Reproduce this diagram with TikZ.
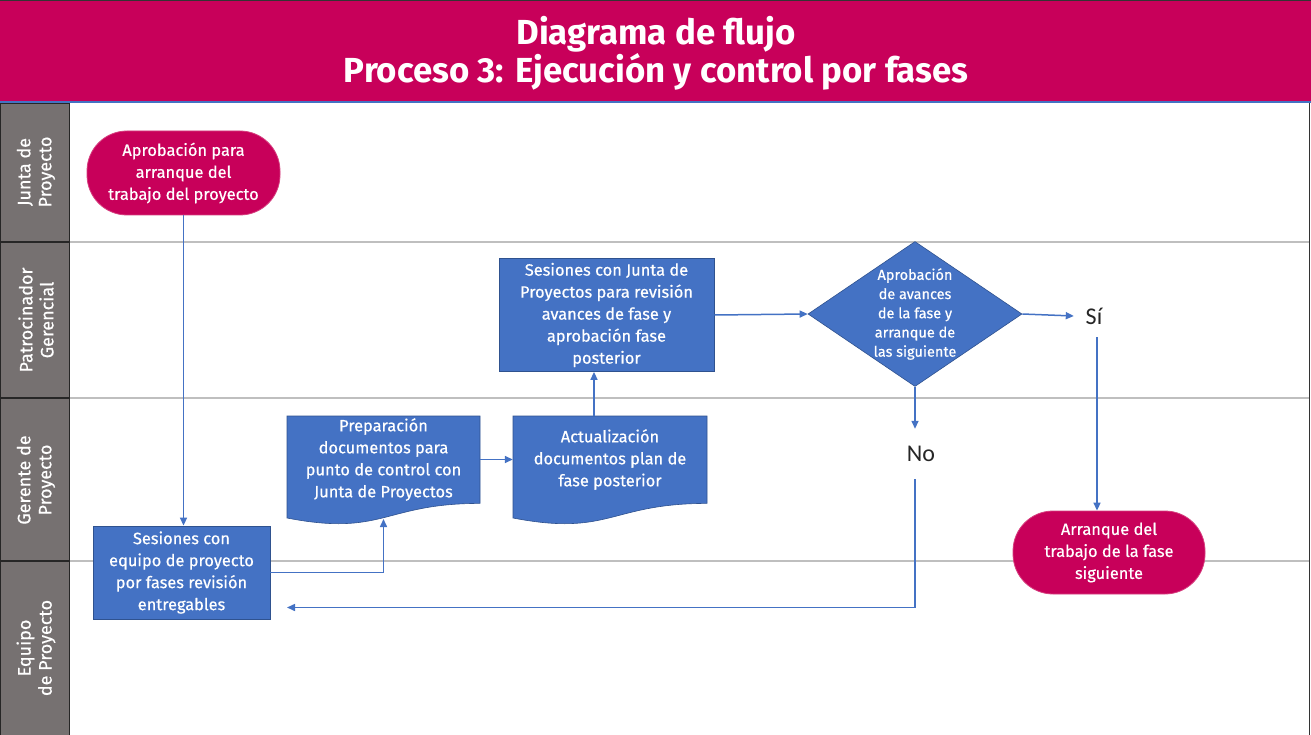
\documentclass[tikz,border=0pt]{standalone}
\usepackage{fontspec}
\setmainfont{Fira Sans}
\newfontfamily\bodyf[FakeBold=0.5]{Fira Sans}
\newfontfamily\calib{Carlito}
\usetikzlibrary{arrows.meta,shapes.geometric,calc}
\definecolor{mag}{HTML}{C8005A}
\definecolor{magb}{HTML}{D6407F}
\definecolor{lanegray}{HTML}{767171}
\definecolor{boxblue}{HTML}{4472C4}
\definecolor{boxedge}{HTML}{2F528F}
\definecolor{conn}{HTML}{4472C4}
\definecolor{sep}{HTML}{BFBFBF}
\tikzset{
  base/.style={font=\bodyf\fontsize{16.4}{22}\selectfont, text=white, align=center, inner sep=0pt},
  term/.style={base, fill=mag, draw=magb, line width=0.8pt, rounded corners=40pt},
  procbox/.style={base, fill=boxblue, draw=boxedge, line width=0.8pt},
  docarea/.style={base},
  decis/.style={diamond, fill=boxblue, draw=boxedge, line width=0.6pt, inner sep=0pt},
  lbl/.style={font=\calib\fontsize{24}{26}\selectfont, text=black!85, inner sep=0pt},
  flow/.style={draw=conn, line width=1.5pt, -{Triangle[length=8pt,width=7pt]}},
  lanehead/.style={fill=lanegray, draw=black!85, line width=1.2pt},
  lanetxt/.style={font=\bodyf\fontsize{18}{21}\selectfont, text=white, align=center, rotate=90, inner sep=0pt},
}
\begin{document}
\begin{tikzpicture}[x=1pt,y=-1pt]
\useasboundingbox (0,0) rectangle (1311,735);
\fill[white] (0,0) rectangle (1311,735);
% header
\fill[mag] (0,0) rectangle (1311,101);
\draw[black!80, line width=1.5pt] (0,0.75) -- (1311,0.75);
\fill[boxblue] (0,101) rectangle (1311,103.5);
\node[font=\bfseries\fontsize{34.8}{38}\selectfont, text=white, align=center, inner sep=0pt] (title) at (656,53) {Diagrama de flujo\\Proceso 3: Ejecución y control por fases};
% lane separators
\draw[sep, line width=1.2pt] (70,242) -- (1309,242);
\draw[sep, line width=1.2pt] (70,398) -- (1309,398);
\draw[sep, line width=1.2pt] (70,561) -- (1309,561);
\draw[black!80, line width=1.5pt] (1309.5,103.5) -- (1309.5,735);
% lane headers
\draw[lanehead] (0.6,103.5) rectangle (69.5,242);
\draw[lanehead] (0.6,242) rectangle (69.5,398);
\draw[lanehead] (0.6,398) rectangle (69.5,561);
\draw[lanehead] (0.6,561) rectangle (69.5,736);
\node[lanetxt] (l1) at (36,172) {Junta de\\Proyecto};
\node[lanetxt] (l2) at (36,320) {Patrocinador\\Gerencial};
\node[lanetxt] (l3) at (36,480) {Gerente de\\Proyecto};
\node[lanetxt] (l4) at (36,648) {Equipo\\de Proyecto};
% nodes
\node[term, minimum width=193pt, minimum height=84pt] (start) at (183.5,173) {Aprobación para\\arranque del\\trabajo del proyecto};
\node[procbox, minimum width=177pt, minimum height=93pt] (ses) at (181.5,572.5) {Sesiones con\\equipo de proyecto\\por fases revisión\\entregables};
% document shapes
\fill[boxblue] (287,416) -- (480,416) -- (480,503.4) .. controls (383.5,503.4) and (383.5,536.7) .. (287,518) -- cycle;
\draw[boxedge, line width=0.6pt] (287,416) -- (480,416) -- (480,503.4) .. controls (383.5,503.4) and (383.5,536.7) .. (287,518) -- cycle;
\node[docarea, minimum width=193pt, minimum height=87pt] (prep) at (383.5,459.5) {Preparación\\documentos para\\punto de control con\\Junta de Proyectos};
\coordinate (prepb) at (383.5,519);
\fill[boxblue] (513,416) -- (707,416) -- (707,503.4) .. controls (610,503.4) and (610,536.7) .. (513,518) -- cycle;
\draw[boxedge, line width=0.6pt] (513,416) -- (707,416) -- (707,503.4) .. controls (610,503.4) and (610,536.7) .. (513,518) -- cycle;
\node[docarea, minimum width=194pt, minimum height=87pt] (act) at (610,459.5) {Actualización\\documentos plan de\\fase posterior};
\node[procbox, minimum width=215pt, minimum height=113pt] (jun) at (606.5,315) {Sesiones con Junta de\\Proyectos para revisión\\avances de fase y\\aprobación fase\\posterior};
\node[decis, minimum width=214pt, minimum height=145pt,
  label={[font=\bodyf\fontsize{14.5}{19.2}\selectfont, text=white, align=center, inner sep=0pt]center:Aprobación\\de avances\\de la fase y\\arranque de\\las siguiente}] (dec) at (915,314) {};
\node[lbl, minimum width=40pt, minimum height=42pt] (si) at (1094,316) {Sí};
\node[lbl, minimum width=30pt, minimum height=50pt] (no) at (921,454) {No};
\node[term, minimum width=192pt, minimum height=83pt] (arr) at (1109,552.5) {Arranque del\\trabajo de la fase\\siguiente};
\coordinate (ret) at (287,607.5);
% connectors
\draw[flow] (start.south) -- (start.south |- ses.north);
\draw[flow] (ses.east) -| (prepb);
\draw[flow] (prep.east) -- (act.west);
\draw[flow] ([xshift=-16pt]act.north) -- ([xshift=-16pt]act.north |- jun.south);
\draw[flow] (jun.east) -- (dec.west);
\draw[flow] (dec.east) -- (si.west);
\draw[flow] (dec.south) -- (dec.south |- no.north);
\draw[flow] ([xshift=3pt]si.south) -- ([xshift=3pt]si.south |- arr.north);
\draw[flow] (dec.south |- no.south) |- (ret);
\end{tikzpicture}
\end{document}
